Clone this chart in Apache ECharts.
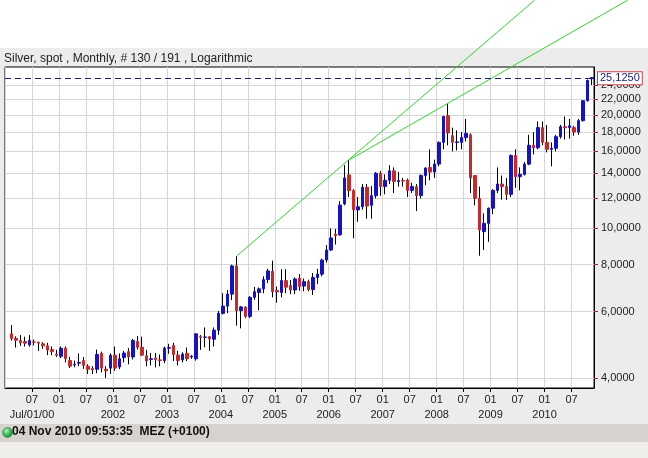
<!DOCTYPE html>
<html>
<head>
<meta charset="utf-8">
<script src="https://cdn.jsdelivr.net/npm/echarts@6.0.0/dist/echarts.min.js"></script>
<style>
  html, body { margin: 0; padding: 0; background: #fff; }
  #chart { width: 648px; height: 458px; }
</style>
</head>
<body>
<div id="chart"></div>
<script>
// Silver spot, monthly candles Feb 2000 .. Nov 2010 (slot 0 = Jan 2000 is empty)
var FIRST_YEAR = 2000;
var opens = [
  5.24, 5.10, 5.03, 5.00, 4.90, 4.99, 4.98, 4.93, 4.87, 4.76, 4.63,
  4.57, 4.80, 4.45, 4.33, 4.38, 4.45, 4.30, 4.24, 4.22, 4.65, 4.22, 4.25,
  4.60, 4.28, 4.53, 4.70, 4.55, 5.00, 4.83, 4.58, 4.48, 4.52, 4.47, 4.45,
  4.80, 4.88, 4.60, 4.47, 4.65, 4.55, 4.50, 5.15, 5.13, 5.15, 5.07, 5.36,
  5.94, 6.21, 6.68, 7.94, 6.04, 6.17, 5.83, 6.55, 6.75, 6.90, 7.30, 7.68,
  6.83, 6.75, 7.26, 7.05, 6.85, 7.36, 7.02, 7.21, 6.87, 7.40, 7.55, 8.23,
  8.75, 9.65, 9.60, 11.60, 13.85, 12.58, 11.18, 11.40, 12.85, 11.50, 12.20, 13.99,
  12.90, 13.40, 14.20, 13.30, 13.40, 13.43, 12.60, 12.90, 12.20, 13.80, 14.50, 14.10,
  14.80, 16.90, 19.90, 17.60, 16.90, 16.90, 17.40, 17.70, 13.80, 12.00, 9.79, 10.30,
  11.30, 12.60, 13.10, 12.90, 12.30, 15.60, 13.70, 13.90, 14.80, 16.60, 16.35, 18.50,
  16.90, 16.20, 16.30, 17.50, 18.60, 18.50, 18.50, 18.00, 19.30, 21.80, 24.95
];
var highs = [
  5.53, 5.16, 5.20, 5.15, 5.20, 5.06, 4.99, 4.98, 4.96, 4.85, 4.75,
  4.85, 4.85, 4.55, 4.45, 4.65, 4.55, 4.35, 4.30, 4.76, 4.70, 4.30, 4.65,
  4.85, 4.65, 4.72, 4.80, 5.08, 5.17, 5.15, 4.75, 4.66, 4.66, 4.62, 4.85,
  4.93, 4.96, 4.72, 4.68, 4.82, 4.60, 5.26, 5.20, 5.45, 5.17, 5.45, 6.03,
  6.72, 6.85, 8.00, 8.43, 6.21, 6.20, 6.60, 6.98, 6.96, 7.45, 7.80, 8.20,
  7.00, 7.78, 7.78, 7.28, 7.40, 7.55, 7.35, 7.30, 7.60, 7.80, 8.30, 9.02,
  9.99, 9.95, 11.80, 14.72, 15.17, 12.70, 12.10, 13.10, 13.10, 12.95, 14.10, 14.20,
  13.90, 14.70, 14.50, 14.10, 13.60, 13.55, 13.20, 13.10, 13.90, 14.50, 16.20, 15.20,
  17.00, 19.90, 21.40, 18.50, 18.20, 18.00, 19.50, 17.85, 13.80, 12.90, 10.95, 11.35,
  12.70, 14.50, 13.80, 13.60, 15.70, 16.20, 14.50, 15.00, 17.70, 18.00, 19.20, 19.20,
  18.80, 16.90, 17.70, 18.80, 19.80, 19.50, 18.70, 19.50, 21.90, 24.80, 25.20
];
var lows = [
  5.03, 4.82, 4.87, 4.85, 4.85, 4.88, 4.72, 4.78, 4.60, 4.60, 4.55,
  4.52, 4.40, 4.25, 4.27, 4.30, 4.23, 4.10, 4.10, 4.12, 4.14, 4.00, 4.10,
  4.18, 4.22, 4.40, 4.35, 4.48, 4.76, 4.58, 4.30, 4.32, 4.27, 4.30, 4.38,
  4.64, 4.44, 4.32, 4.40, 4.44, 4.50, 4.45, 4.75, 4.83, 4.72, 4.85, 5.21,
  5.90, 5.95, 6.44, 5.51, 5.42, 5.77, 5.77, 6.45, 6.05, 6.72, 7.15, 6.55,
  6.34, 6.55, 6.72, 6.68, 6.68, 6.82, 6.80, 6.80, 6.65, 7.10, 7.45, 8.10,
  8.70, 9.05, 9.55, 11.50, 12.10, 9.40, 10.40, 11.20, 10.60, 10.60, 12.00, 12.20,
  12.30, 13.10, 12.40, 12.90, 12.90, 12.10, 12.40, 11.10, 12.00, 13.00, 13.40, 13.60,
  14.60, 16.20, 16.60, 16.00, 16.10, 16.20, 17.00, 12.40, 11.50, 8.45, 8.75, 9.20,
  10.90, 12.40, 11.90, 11.90, 12.10, 12.80, 12.60, 13.80, 14.70, 15.70, 16.20, 16.60,
  15.90, 14.60, 16.00, 17.30, 17.20, 17.30, 17.60, 17.70, 19.20, 21.70, 24.00
];
var closes = [
  5.09, 5.04, 4.96, 4.95, 5.03, 4.98, 4.95, 4.87, 4.75, 4.70, 4.60,
  4.80, 4.50, 4.30, 4.35, 4.40, 4.32, 4.22, 4.20, 4.62, 4.25, 4.18, 4.60,
  4.25, 4.50, 4.66, 4.55, 5.03, 4.83, 4.60, 4.44, 4.50, 4.48, 4.45, 4.80,
  4.82, 4.62, 4.45, 4.63, 4.50, 4.57, 5.24, 5.13, 5.14, 5.08, 5.36, 5.94,
  6.21, 6.68, 7.94, 6.04, 6.18, 5.83, 6.55, 6.78, 6.90, 7.30, 7.70, 6.78,
  6.77, 7.26, 6.97, 6.85, 7.33, 7.00, 7.21, 6.87, 7.40, 7.55, 8.23, 8.75,
  9.42, 9.55, 11.52, 13.60, 12.58, 11.18, 11.40, 12.85, 11.45, 12.20, 13.99, 12.90,
  13.40, 14.20, 13.30, 13.38, 13.35, 12.60, 12.90, 12.20, 13.80, 14.45, 14.10, 14.80,
  16.90, 19.80, 17.90, 16.90, 16.95, 17.40, 17.85, 13.60, 12.00, 9.89, 10.30, 11.30,
  12.60, 13.10, 12.90, 12.30, 15.60, 13.70, 13.90, 14.80, 16.60, 16.35, 18.50, 16.90,
  16.20, 16.30, 17.50, 18.60, 18.50, 18.70, 18.00, 19.30, 21.80, 24.70, 25.125
];
var yTicks = [4, 6, 8, 10, 12, 14, 16, 18, 20, 22, 24];
var yRange = [3.763, 26.8];
var lastPrice = 25.125;
// hand-drawn trend lines: [month position, price]
var trendA = [[51.5, 8.43], [117.8, 40.35]];
var trendB = [[76.5, 15.17], [138.5, 40.35]];

var MON = ['Jan', 'Feb', 'Mar', 'Apr', 'May', 'Jun', 'Jul', 'Aug', 'Sep', 'Oct', 'Nov', 'Dec'];
var nSlots = opens.length + 1;
var categories = [];
for (var i = 0; i < nSlots; i++) {
  categories.push(MON[i % 12] + ' ' + (FIRST_YEAR + Math.floor(i / 12)));
}

var ln = Math.log;
var wickData = ['-'];
var bodyData = ['-'];
for (var k = 0; k < opens.length; k++) {
  var o = opens[k], c = closes[k];
  wickData.push([ln(o), ln(c), ln(lows[k]), ln(highs[k])]);
  bodyData.push([ln(o), ln(c), ln(Math.min(o, c)), ln(Math.max(o, c))]);
}
function trendLine(t) {
  return t.map(function (p) { return [p[0], ln(p[1])]; });
}

// main plot box (px) and an overlay box reaching the canvas top/right edge,
// so that the trend lines can run past the frame like in the original
var W = 648, H = 458;
var G = { left: 5, right: 54, top: 67, bottom: 70 };
var plotW = W - G.left - G.right, plotH = H - G.top - G.bottom;
var pxPerSlot = plotW / nSlots;
var pxPerLn = plotH / (ln(yRange[1]) - ln(yRange[0]));
var overXMax = (W - G.left) / pxPerSlot;
var overYMax = ln(yRange[0]) + (H - G.bottom) / pxPerLn;

var BLUE = '#1414c4', RED = '#c82a2a';
var FONT = 'Liberation Sans, Arial, sans-serif';

var chart = echarts.init(document.getElementById('chart'), null, { renderer: 'canvas' });
chart.setOption({
  animation: false,
  backgroundColor: '#ffffff',
  title: {
    text: 'Silver, spot , Monthly, # 130 / 191 , Logarithmic',
    left: 4, top: 53, padding: 0,
    textStyle: { fontSize: 12, fontWeight: 'normal', color: '#222', fontFamily: FONT }
  },
  graphic: [
    { type: 'rect', z: -1, silent: true, shape: { x: 0, y: 48, width: 648, height: 376 }, style: { fill: '#ececec' } },
    { type: 'rect', z: -1, silent: true, shape: { x: 0, y: 424, width: 648, height: 18 }, style: { fill: '#d6d3ce' } },
    { type: 'rect', z: -1, silent: true, shape: { x: 0, y: 442, width: 648, height: 16 }, style: { fill: '#f0eeea' } },
    {
      type: 'circle', silent: true, shape: { cx: 7.5, cy: 432.5, r: 5 },
      style: {
        fill: new echarts.graphic.RadialGradient(0.4, 0.35, 0.7, [
          { offset: 0, color: '#b8f0c0' }, { offset: 0.5, color: '#3cbf5a' }, { offset: 1, color: '#1a7a30' }
        ]),
        stroke: '#2a7a3a', lineWidth: 0.5
      }
    },
    {
      type: 'text', silent: true, left: 12, top: 426,
      style: { text: '04 Nov 2010 09:53:35  MEZ (+0100)', fill: '#111', font: 'bold 12px ' + FONT }
    }
  ],
  grid: [
    {
      left: G.left, right: G.right, top: G.top, bottom: G.bottom,
      show: true, backgroundColor: '#ffffff', borderColor: '#000', borderWidth: 1
    },
    { left: G.left, right: 0, top: 0, bottom: G.bottom, show: false }
  ],
  xAxis: [
    { type: 'category', gridIndex: 0, data: categories, boundaryGap: true, show: false },
    {
      type: 'value', gridIndex: 0, min: 0, max: nSlots, interval: 6, position: 'bottom',
      axisLine: { show: true, onZero: false, lineStyle: { color: '#000' } },
      axisTick: { show: true, length: 4, lineStyle: { color: '#000' } },
      axisLabel: {
        margin: 4, fontSize: 11, lineHeight: 15, color: '#222', fontFamily: FONT,
        showMinLabel: false, showMaxLabel: false,
        formatter: function (v) {
          if (v <= 0 || v % 6 !== 0) return '';
          if (v === 6) return '07\nJul/01/00';
          if (v % 12 === 6) return '07';
          if (v === 12) return '01';
          return '01\n' + (FIRST_YEAR + v / 12);
        }
      },
      splitLine: { show: true, lineStyle: { color: '#d6d6d6' } }
    },
    { type: 'value', gridIndex: 1, min: 0, max: overXMax, show: false }
  ],
  yAxis: [
    {
      type: 'value', gridIndex: 0, position: 'right', scale: true,
      min: ln(yRange[0]), max: ln(yRange[1]),
      axisLine: { show: true, onZero: false, lineStyle: { color: '#000' } },
      axisTick: {
        show: true, length: 4, customValues: yTicks.map(ln),
        lineStyle: { color: '#a52a2a', width: 1 }
      },
      axisLabel: {
        customValues: yTicks.map(ln), margin: 7, fontSize: 11, color: '#222', fontFamily: FONT,
        formatter: function (v) { return Math.exp(v).toFixed(4).replace('.', ','); }
      },
      splitLine: { show: true, lineStyle: { color: '#d6d6d6' } }
    },
    { type: 'value', gridIndex: 1, min: ln(yRange[0]), max: overYMax, show: false }
  ],
  series: [
    {
      name: 'wick', type: 'candlestick', xAxisIndex: 0, yAxisIndex: 0, data: wickData, barWidth: 1,
      itemStyle: { color: '#000', color0: '#000', borderColor: '#000', borderColor0: '#000', borderColorDoji: '#000', borderWidth: 1 },
      silent: true
    },
    {
      name: 'body', type: 'candlestick', xAxisIndex: 0, yAxisIndex: 0, data: bodyData, barWidth: 3,
      itemStyle: { color: BLUE, color0: RED, borderColor: BLUE, borderColor0: RED, borderColorDoji: '#333', borderWidth: 1 },
      silent: true,
      markLine: {
        silent: true, symbol: ['none', 'none'], animation: false,
        lineStyle: { type: [6, 4], color: '#1c1c7a', width: 1 },
        label: {
          show: true, position: 'end', distance: 4,
          formatter: lastPrice.toFixed(4).replace('.', ','),
          color: '#20207a', fontSize: 11, fontFamily: FONT,
          backgroundColor: '#fff', borderColor: '#d04050', borderWidth: 1, padding: [1, 2, 0, 2]
        },
        data: [{ yAxis: ln(lastPrice) }]
      }
    },
    {
      name: 'trendA', type: 'line', xAxisIndex: 2, yAxisIndex: 1, data: trendLine(trendA),
      showSymbol: false, silent: true, lineStyle: { color: '#2ed82e', width: 1 }
    },
    {
      name: 'trendB', type: 'line', xAxisIndex: 2, yAxisIndex: 1, data: trendLine(trendB),
      showSymbol: false, silent: true, lineStyle: { color: '#2ed82e', width: 1 }
    }
  ]
});
</script>
</body>
</html>
